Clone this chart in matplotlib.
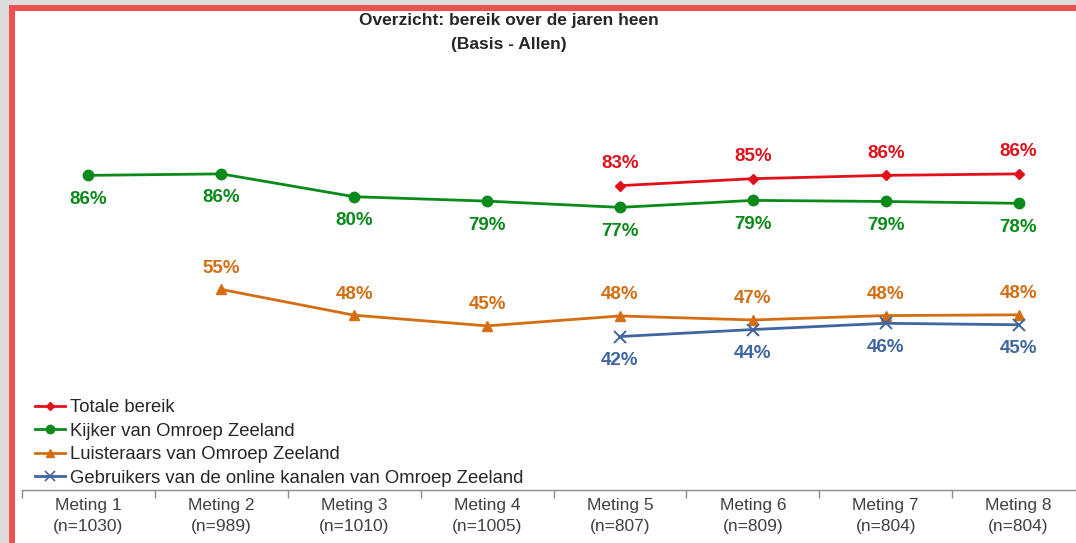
import numpy as np
import matplotlib
matplotlib.use("Agg")
import matplotlib.pyplot as plt
import matplotlib.patches as patches
from matplotlib.lines import Line2D

plt.rcParams["font.family"] = ["Liberation Sans", "DejaVu Sans"]

# ---------------------------------------------------------
# Data
# ---------------------------------------------------------
metingen = ["Meting 1", "Meting 2", "Meting 3", "Meting 4",
            "Meting 5", "Meting 6", "Meting 7", "Meting 8"]
n_values = [1030, 989, 1010, 1005, 807, 809, 804, 804]

totaal_idx = [4, 5, 6, 7]
totaal = [83.2, 85.1, 86.0, 86.4]

kijker_idx = [0, 1, 2, 3, 4, 5, 6, 7]
kijker = [86.0, 86.4, 80.2, 79.0, 77.3, 79.2, 78.9, 78.4]

luister_idx = [1, 2, 3, 4, 5, 6, 7]
luister = [55.0, 48.0, 45.1, 47.8, 46.7, 47.9, 48.1]

online_idx = [4, 5, 6, 7]
online = [42.2, 44.1, 45.8, 45.4]

series_names = ["Totale bereik",
                "Kijker van Omroep Zeeland",
                "Luisteraars van Omroep Zeeland",
                "Gebruikers van de online kanalen van Omroep Zeeland"]

RED = "#e2101b"
GREEN = "#0a8a1a"
ORANGE = "#d56d12"
BLUE = "#3f66a0"


def main():
    W, H = 1076, 543
    fig = plt.figure(figsize=(W / 100, H / 100), dpi=100)
    fig.patch.set_facecolor("white")

    # axes: x from 22 px to 1085 px (runs past the right edge), y from 122 to 490 px
    ax = fig.add_axes([22 / W, 1 - 490 / H, 1063 / W, 368 / H])
    ax.set_xlim(-0.5, 7.5)
    ax.set_ylim(0.5, 100.5)
    ax.patch.set_alpha(0)

    # lines
    ax.plot(totaal_idx, totaal, color=RED, lw=2.0, marker="D", ms=5.5,
            label=series_names[0], zorder=4)
    ax.plot(kijker_idx, kijker, color=GREEN, lw=2.0, marker="o", ms=7.5,
            label=series_names[1], zorder=4)
    ax.plot(luister_idx, luister, color=ORANGE, lw=2.0, marker="^", ms=7.5,
            label=series_names[2], zorder=4)
    ax.plot(online_idx, online, color=BLUE, lw=2.0, marker="x", ms=9,
            mew=1.4, label=series_names[3], zorder=4)

    # data labels
    def label(xs, ys, color, dy):
        for x, y in zip(xs, ys):
            ax.annotate(f"{round(y):d}%", (x, y), xytext=(0, dy),
                        textcoords="offset pixels", ha="center", va="center",
                        fontsize=13.5, fontweight="bold", color=color)

    label(totaal_idx, totaal, RED, 22)
    label(kijker_idx, kijker, GREEN, -24)
    label(luister_idx, luister, ORANGE, 21)
    label(online_idx, online, BLUE, -24)

    # axis styling
    for side in ["left", "right", "top"]:
        ax.spines[side].set_visible(False)
    ax.spines["bottom"].set_color("#8c8c8c")
    ax.spines["bottom"].set_linewidth(1.0)
    ax.set_yticks([])
    ax.set_xticks(range(len(metingen)))
    ax.set_xticklabels([f"{m}\n(n={n})" for m, n in zip(metingen, n_values)],
                       fontsize=12.5, color="#404040")
    for t in ax.get_xticklabels():
        t.set_linespacing(1.45)
    ax.tick_params(axis="x", which="major", length=0, pad=6)
    ax.set_xticks(np.arange(-0.5, 8.0, 1.0), minor=True)
    ax.tick_params(axis="x", which="minor", length=6, color="#8c8c8c", width=1.0)

    # legend
    handles = [
        Line2D([], [], color=RED, lw=2.0, marker="D", ms=4),
        Line2D([], [], color=GREEN, lw=2.0, marker="o", ms=6),
        Line2D([], [], color=ORANGE, lw=2.0, marker="^", ms=6),
        Line2D([], [], color=BLUE, lw=2.0, marker="x", ms=7, mew=1.2),
    ]
    fig.legend(handles, series_names, loc="upper left",
               bbox_to_anchor=(35 / W, 1 - 399 / H), frameon=False,
               fontsize=13.3, handlelength=1.65, handletextpad=0.25,
               labelspacing=0.36, borderpad=0, borderaxespad=0,
               labelcolor="#262626")

    # title
    fig.text(509 / W, 1 - 21 / H, "Overzicht: bereik over de jaren heen",
             ha="center", va="center", fontsize=12.5, fontweight="bold",
             color="#262626")
    fig.text(509 / W, 1 - 44 / H, "(Basis - Allen)",
             ha="center", va="center", fontsize=12.5, fontweight="bold",
             color="#262626")

    # grey surround and red frame (left and top)
    fig.patches.append(patches.Rectangle((0, 0), 9 / W, 1, transform=fig.transFigure,
                                         facecolor="#dcdcdc", edgecolor="none", zorder=10))
    fig.patches.append(patches.Rectangle((0, 1 - 5 / H), 1, 5 / H, transform=fig.transFigure,
                                         facecolor="#dcdcdc", edgecolor="none", zorder=10))
    fig.patches.append(patches.Rectangle((9 / W, 0), 6 / W, 1 - 5 / H, transform=fig.transFigure,
                                         facecolor="#f05050", edgecolor="none", zorder=11))
    fig.patches.append(patches.Rectangle((9 / W, 1 - 11 / H), 1, 6 / H, transform=fig.transFigure,
                                         facecolor="#f05050", edgecolor="none", zorder=11))

    fig.savefig("out.png", dpi=100)


if __name__ == "__main__":
    main()
